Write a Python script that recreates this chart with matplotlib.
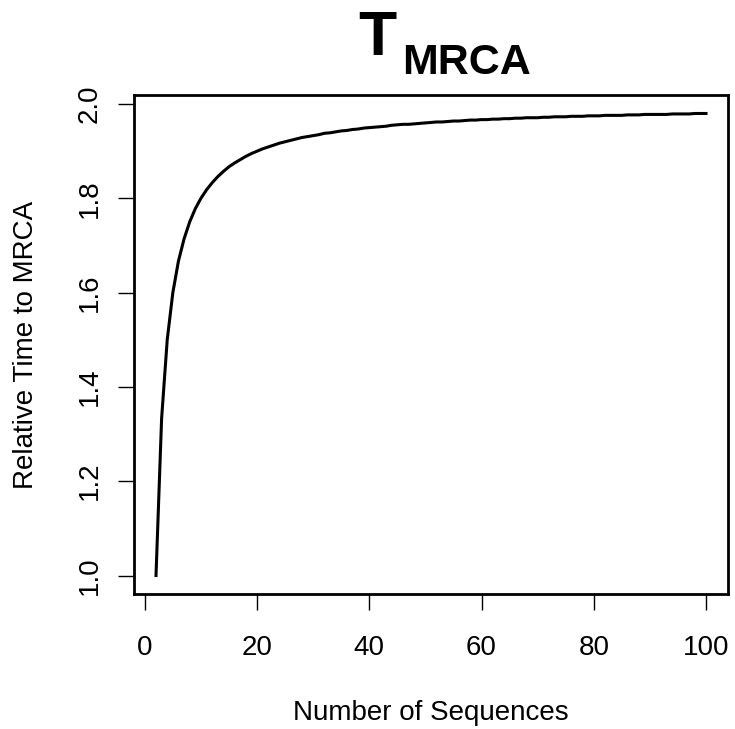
import matplotlib
matplotlib.use("Agg")
import matplotlib.pyplot as plt

plt.rcParams['font.family'] = ['Liberation Sans', 'DejaVu Sans']

# number of sequences on the x axis
n_sequences = list(range(2, 101))

# relative time to MRCA
rel_tmrca = [
    1.000, 1.333, 1.500, 1.600, 1.667, 1.714, 1.750, 1.778, 1.800,
    1.818, 1.833, 1.846, 1.857, 1.867, 1.875, 1.882, 1.889, 1.895, 1.900,
    1.905, 1.909, 1.913, 1.917, 1.920, 1.923, 1.926, 1.929, 1.931, 1.933,
    1.935, 1.938, 1.939, 1.941, 1.943, 1.944, 1.946, 1.947, 1.949, 1.950,
    1.951, 1.952, 1.953, 1.955, 1.956, 1.957, 1.957, 1.958, 1.959, 1.960,
    1.961, 1.962, 1.962, 1.963, 1.964, 1.964, 1.965, 1.966, 1.966, 1.967,
    1.967, 1.968, 1.968, 1.969, 1.969, 1.970, 1.970, 1.971, 1.971, 1.971,
    1.972, 1.972, 1.973, 1.973, 1.973, 1.974, 1.974, 1.974, 1.975, 1.975,
    1.975, 1.976, 1.976, 1.976, 1.976, 1.977, 1.977, 1.977, 1.978, 1.978,
    1.978, 1.978, 1.978, 1.979, 1.979, 1.979, 1.979, 1.980, 1.980, 1.980,
]

x_ticks = [0, 20, 40, 60, 80, 100]
y_ticks = [1.0, 1.2, 1.4, 1.6, 1.8, 2.0]

fig = plt.figure(figsize=(7.35, 7.29), dpi=100)
ax = fig.add_axes([134 / 735, 1 - 594 / 729, (728 - 134) / 735, (594 - 95) / 729])

ax.plot(n_sequences, rel_tmrca, color="black", lw=2.2)

# R style 4% padding
xr = max(n_sequences) - min(n_sequences)
yr = max(rel_tmrca) - min(rel_tmrca)
ax.set_xlim(min(n_sequences) - 0.04 * xr, max(n_sequences) + 0.04 * xr)
ax.set_ylim(min(rel_tmrca) - 0.04 * yr, max(rel_tmrca) + 0.04 * yr)

ax.set_xticks(x_ticks)
ax.set_xticklabels([str(t) for t in x_ticks])
ax.set_yticks(y_ticks)
ax.set_yticklabels(["%.1f" % t for t in y_ticks], rotation=90, va="center")
ax.tick_params(direction="out", length=11.5, width=1.0, labelsize=20)
ax.tick_params(axis="x", pad=18)
ax.tick_params(axis="y", pad=11)

for s in ax.spines.values():
    s.set_linewidth(2.0)

ax.set_xlabel("Number of Sequences", fontsize=20, labelpad=28)
ax.set_ylabel("Relative Time to MRCA", fontsize=20, labelpad=27)

fig.text(358 / 735, 1 - 55 / 729, "T", fontsize=45, fontweight="bold",
         ha="left", va="baseline")
fig.text(402 / 735, 1 - 74 / 729, "MRCA", fontsize=31, fontweight="bold",
         ha="left", va="baseline")

fig.savefig("out.png", dpi=100)
